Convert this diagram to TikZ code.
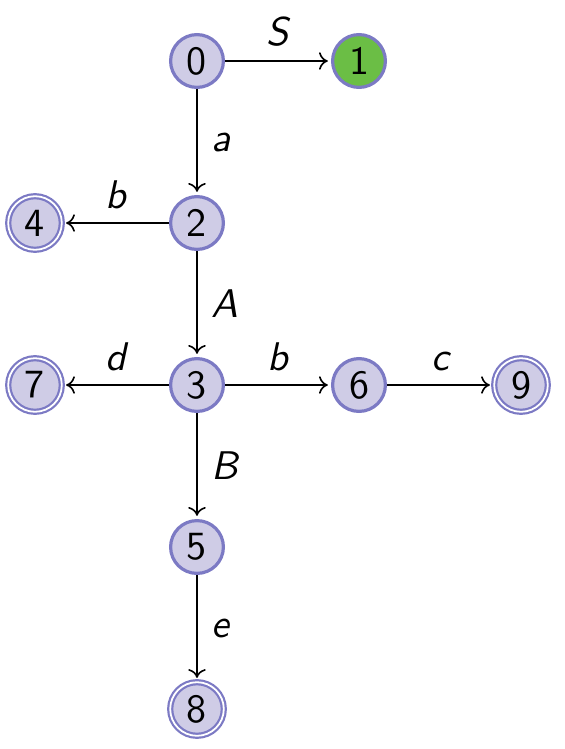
\documentclass[tikz,border=0pt]{standalone}
\usepackage{tikz}
\usetikzlibrary{arrows.meta}
\definecolor{statefill}{RGB}{207,204,230}
\definecolor{stateline}{RGB}{124,122,196}
\definecolor{startfill}{RGB}{107,190,69}

\begin{document}
\begin{tikzpicture}[
    >={To[length=2.2pt,width=4.4pt]},
    x=40.5pt, y=40.5pt,
    state/.style={circle, draw=stateline, fill=statefill, line width=0.8pt, minimum size=13.2pt, inner sep=0pt, font=\sffamily},
    accept/.style={state, double, double distance=0.45pt, line width=0.55pt, minimum size=13.4pt},
    trans/.style={->, line width=0.4pt, shorten >=0.8pt},
    edgelabel/.style={font=\sffamily\itshape}
]
    \useasboundingbox (-49.25pt,15.25pt) rectangle (92pt,-172pt);

    \foreach \i/\x/\y in {0/0/0,2/0/-1,3/0/-2,6/1/-2,5/0/-3} {
        \node[state] (s\i) at (\x,\y) {\i};
    }
    \node[state, fill=startfill] (s1) at (1,0) {1};
    \foreach \i/\x/\y in {4/-1/-1,7/-1/-2,9/2/-2,8/0/-4} {
        \node[accept] (s\i) at (\x,\y) {\i};
    }

    \foreach \i/\j/\where/\lab in {0/1/above/S,0/2/right/a,2/4/above/b,2/3/right/A,
        3/7/above/d,3/6/above/b,6/9/above/c,3/5/right/B,5/8/right/e} {
        \draw[trans] (s\i) -- node[edgelabel, \where] {\lab} (s\j);
    }
\end{tikzpicture}
\end{document}
